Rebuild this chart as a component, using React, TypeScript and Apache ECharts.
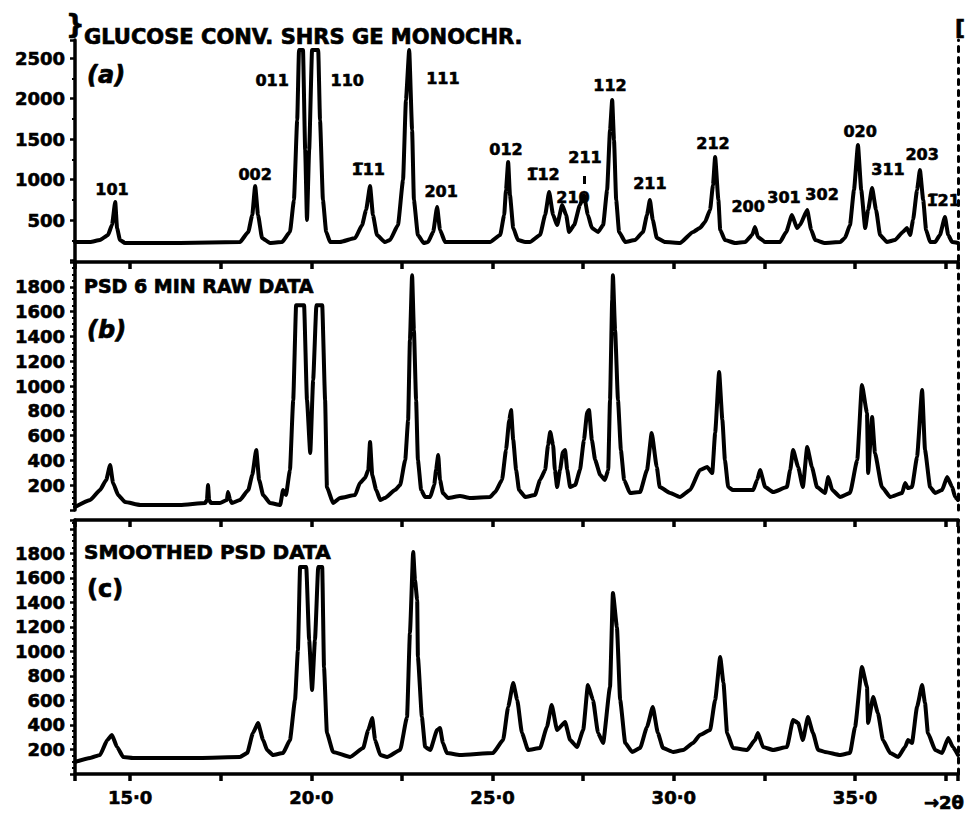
import React, { useEffect, useRef } from "react";
import * as echarts from "echarts";

// 2θ window shared by the three patterns (degrees)
const TWO_THETA_MIN = 13.48;
const TWO_THETA_MAX = 37.84;

// (a) glucose, conventional diffractometer, Ge monochromator: [2θ, counts]
const glucoseConv: [number, number][] = [
  [13.48, 228], [13.9, 228], [14.17, 253], [14.39, 315], [14.5, 438], [14.59, 722], [14.64, 401], [14.72, 253],
  [14.86, 216], [16.38, 216], [18.03, 228], [18.26, 352], [18.37, 562], [18.45, 920], [18.53, 562], [18.64, 278],
  [18.86, 216], [19.19, 228], [19.41, 352], [19.52, 747], [19.61, 1735], [19.66, 2600], [19.77, 2600], [19.83, 1365],
  [19.88, 500], [19.94, 1365], [20.02, 2600], [20.19, 2600], [20.24, 1735], [20.32, 747], [20.41, 352], [20.52, 228],
  [20.79, 228], [21.21, 278], [21.4, 438], [21.51, 624], [21.62, 920], [21.7, 562], [21.81, 315], [22.03, 228],
  [22.17, 253], [22.39, 438], [22.53, 994], [22.61, 1982], [22.7, 2600], [22.78, 1612], [22.83, 747], [22.94, 315],
  [23.1, 216], [23.22, 228], [23.36, 352], [23.47, 661], [23.55, 377], [23.69, 228], [24.93, 228], [25.21, 315],
  [25.32, 562], [25.37, 871], [25.43, 1216], [25.48, 809], [25.57, 401], [25.7, 253], [25.9, 228], [26.03, 228],
  [26.31, 315], [26.45, 562], [26.56, 846], [26.67, 562], [26.78, 438], [26.92, 685], [27.03, 562], [27.11, 352],
  [27.25, 438], [27.41, 685], [27.52, 809], [27.63, 562], [27.74, 401], [27.91, 352], [28.05, 438], [28.16, 871],
  [28.24, 1612], [28.3, 1982], [28.35, 1488], [28.41, 747], [28.49, 352], [28.66, 228], [28.93, 253], [29.15, 352],
  [29.26, 562], [29.34, 747], [29.42, 500], [29.53, 278], [29.76, 228], [30.17, 216], [30.53, 352], [30.72, 401],
  [30.86, 475], [31.0, 624], [31.08, 932], [31.14, 1278], [31.23, 747], [31.28, 377], [31.41, 253], [31.69, 216],
  [31.97, 228], [32.16, 315], [32.24, 414], [32.32, 290], [32.52, 228], [32.93, 228], [33.1, 352], [33.26, 562],
  [33.4, 401], [33.48, 438], [33.68, 624], [33.79, 377], [33.9, 253], [34.17, 216], [34.59, 228], [34.72, 278],
  [34.86, 438], [34.97, 871], [35.08, 1426], [35.17, 871], [35.28, 401], [35.36, 624], [35.47, 895], [35.58, 624],
  [35.69, 315], [35.88, 228], [36.1, 253], [36.32, 352], [36.43, 401], [36.52, 315], [36.6, 500], [36.71, 871],
  [36.79, 1118], [36.88, 747], [36.96, 377], [37.07, 228], [37.21, 228], [37.34, 315], [37.48, 537], [37.57, 315],
  [37.68, 228], [37.84, 216],
];

// (b) position-sensitive detector, 6 min raw data: [2θ, counts]
const psdRaw: [number, number][] = [
  [13.48, 24], [13.9, 81], [14.17, 161], [14.34, 242], [14.45, 363], [14.53, 218], [14.67, 121], [14.86, 64],
  [15.28, 40], [16.38, 40], [17.07, 56], [17.12, 81], [17.15, 202], [17.18, 81], [17.23, 56], [17.48, 56],
  [17.67, 81], [17.7, 145], [17.76, 81], [17.81, 56], [18.03, 81], [18.26, 161], [18.37, 282], [18.48, 484],
  [18.56, 242], [18.67, 121], [18.86, 56], [19.14, 40], [19.22, 161], [19.3, 121], [19.41, 322], [19.5, 887],
  [19.58, 1652], [19.8, 1652], [19.88, 887], [19.97, 459], [20.05, 1048], [20.14, 1652], [20.3, 1652], [20.38, 887],
  [20.43, 185], [20.6, 56], [20.79, 97], [21.21, 121], [21.34, 218], [21.48, 258], [21.57, 322], [21.62, 548],
  [21.68, 282], [21.79, 161], [21.9, 81], [22.03, 97], [22.31, 161], [22.45, 202], [22.59, 403], [22.67, 725],
  [22.72, 1370], [22.78, 1894], [22.83, 1451], [22.89, 887], [22.94, 403], [23.03, 161], [23.14, 105], [23.28, 105],
  [23.39, 202], [23.44, 322], [23.5, 443], [23.55, 242], [23.63, 137], [23.77, 97], [24.1, 113], [24.38, 97],
  [24.93, 105], [25.07, 145], [25.26, 242], [25.37, 484], [25.46, 725], [25.51, 806], [25.57, 564], [25.65, 322],
  [25.73, 161], [25.9, 105], [26.17, 121], [26.31, 242], [26.45, 322], [26.53, 524], [26.59, 629], [26.67, 524],
  [26.72, 322], [26.78, 185], [26.86, 322], [26.94, 467], [27.0, 484], [27.06, 322], [27.14, 185], [27.28, 202],
  [27.41, 322], [27.52, 564], [27.61, 790], [27.66, 806], [27.74, 564], [27.83, 403], [27.97, 282], [28.1, 242],
  [28.19, 322], [28.24, 887], [28.3, 1693], [28.32, 1894], [28.38, 1451], [28.46, 887], [28.54, 484], [28.63, 242],
  [28.79, 137], [29.07, 145], [29.26, 322], [29.39, 621], [29.53, 347], [29.61, 185], [29.9, 137], [30.17, 105],
  [30.45, 161], [30.72, 322], [30.92, 347], [31.06, 298], [31.14, 621], [31.25, 1112], [31.34, 725], [31.41, 403],
  [31.5, 185], [31.63, 161], [32.19, 161], [32.3, 242], [32.38, 322], [32.52, 185], [32.74, 145], [33.12, 185],
  [33.21, 322], [33.29, 484], [33.43, 347], [33.56, 185], [33.68, 508], [33.81, 347], [33.95, 185], [34.17, 137],
  [34.26, 266], [34.37, 161], [34.59, 105], [34.86, 137], [35.06, 403], [35.19, 1008], [35.33, 782], [35.36, 298],
  [35.47, 750], [35.55, 459], [35.74, 185], [35.97, 105], [36.3, 137], [36.38, 218], [36.46, 177], [36.57, 185],
  [36.71, 427], [36.85, 967], [36.93, 484], [37.07, 185], [37.21, 137], [37.4, 161], [37.54, 266], [37.68, 185],
  [37.76, 105], [37.84, 81],
];

// (c) smoothed PSD data: [2θ, counts]
const psdSmoothed: [number, number][] = [
  [13.48, 98], [13.9, 131], [14.17, 155], [14.37, 277], [14.5, 318], [14.64, 220], [14.81, 139], [15.08, 131],
  [16.93, 131], [18.03, 139], [18.23, 171], [18.39, 335], [18.53, 416], [18.67, 277], [18.78, 196], [18.94, 155],
  [19.22, 171], [19.41, 277], [19.55, 604], [19.63, 1012], [19.69, 1689], [19.86, 1689], [19.94, 1093], [20.02, 685],
  [20.1, 1093], [20.19, 1689], [20.3, 1689], [20.35, 873], [20.43, 335], [20.6, 180], [21.07, 139], [21.43, 212],
  [21.57, 359], [21.68, 457], [21.76, 277], [21.9, 155], [22.09, 139], [22.45, 196], [22.64, 465], [22.72, 1151],
  [22.81, 1812], [22.86, 1583], [22.92, 1420], [22.94, 955], [23.05, 465], [23.14, 220], [23.28, 196], [23.47, 359],
  [23.55, 375], [23.63, 253], [23.74, 171], [24.1, 155], [25.01, 171], [25.29, 277], [25.43, 547], [25.57, 743],
  [25.68, 604], [25.81, 335], [25.98, 196], [26.31, 212], [26.5, 384], [26.63, 563], [26.78, 359], [27.0, 424],
  [27.14, 277], [27.33, 220], [27.5, 359], [27.63, 726], [27.77, 604], [27.91, 335], [28.05, 253], [28.24, 710],
  [28.32, 1477], [28.43, 1200], [28.52, 604], [28.66, 253], [28.85, 180], [29.07, 212], [29.26, 384], [29.42, 547],
  [29.56, 335], [29.7, 212], [29.98, 180], [30.26, 196], [30.53, 253], [30.72, 318], [31.0, 359], [31.14, 604],
  [31.28, 955], [31.37, 743], [31.47, 335], [31.63, 212], [32.02, 196], [32.24, 277], [32.32, 335], [32.46, 220],
  [32.74, 196], [33.12, 220], [33.29, 441], [33.43, 416], [33.56, 277], [33.7, 465], [33.84, 335], [33.98, 196],
  [34.17, 180], [34.59, 155], [34.86, 171], [35.0, 384], [35.19, 873], [35.33, 710], [35.36, 416], [35.5, 628],
  [35.63, 498], [35.77, 277], [35.97, 171], [36.19, 139], [36.38, 220], [36.46, 277], [36.57, 253], [36.71, 547],
  [36.85, 726], [36.93, 579], [37.01, 335], [37.21, 196], [37.4, 171], [37.57, 294], [37.7, 220], [37.84, 155],
];

// Miller indices of the glucose reflections, anchored in panel (a) coordinates [2θ, counts]
const OB = "\u0305"; // combining overline for negative indices
const hklNames: string[] = [
  "101", "002", "011", "110", "1" + OB + "11", "111", "201", "012", "1" + OB + "12", "210", "211",
  "112", "211", "212", "200", "301", "302", "020", "311", "203", "1" + OB + "21",
];
const hklTwoTheta: number[] = [
  14.5, 18.45, 18.92, 20.99, 21.57, 23.63, 23.58, 25.37, 26.39, 27.22, 27.55,
  28.24, 29.34, 31.08, 32.05, 33.04, 34.09, 35.14, 35.91, 36.85, 37.43,
];
const hklCounts: number[] = [
  871, 1068, 2229, 2229, 1118, 2242, 846, 1365, 1068, 772, 1278,
  2167, 945, 1451, 673, 784, 821, 1599, 1118, 1303, 747,
];

const panelTitles = ["GLUCOSE CONV. SHRS GE MONOCHR.", "PSD 6 MIN RAW DATA", "SMOOTHED PSD DATA"];
const panelTags = ["(a)", "(b)", "(c)"];

const FONT = '"DejaVu Sans", sans-serif';
const INK = "#000";

export default function App() {
  const ref = useRef<HTMLDivElement>(null);

  useEffect(() => {
    if (!ref.current) return;
    const chart = echarts.init(ref.current, undefined, { renderer: "svg" });

    const gridLeft = 75;
    const gridWidth = 883;
    const grids = [
      { left: gridLeft, width: gridWidth, top: 40, height: 220.5 },
      { left: gridLeft, width: gridWidth, top: 262, height: 248 },
      { left: gridLeft, width: gridWidth, top: 520, height: 254 },
    ];
    const yMax = [2723, 2000, 2073];
    const yStep = [500, 200, 200];
    const yTop = [2500, 1800, 1800];

    const baseX = {
      type: "value",
      min: TWO_THETA_MIN,
      max: TWO_THETA_MAX,
      splitNumber: 10,
      minInterval: 2.5,
      maxInterval: 2.5,
      splitLine: { show: false },
    };
    const frameLine = { show: true, onZero: false, lineStyle: { color: INK, width: 3.5 } };
    const tickStyle = { color: INK, width: 3.5 };

    const xAxis: any[] = [
      { ...baseX, gridIndex: 0, position: "bottom", show: false },
      {
        ...baseX, gridIndex: 1, position: "top",
        axisLine: frameLine,
        axisTick: { show: true, inside: true, length: 7, lineStyle: tickStyle },
        axisLabel: { show: false },
      },
      {
        ...baseX, gridIndex: 2, position: "top",
        axisLine: frameLine,
        axisTick: { show: true, inside: true, length: 7, lineStyle: tickStyle },
        axisLabel: { show: false },
      },
      {
        ...baseX, gridIndex: 2, position: "bottom",
        axisLine: frameLine,
        axisTick: { show: true, inside: false, length: 7, lineStyle: tickStyle },
        axisLabel: {
          show: true,
          margin: 14,
          color: INK,
          fontFamily: FONT,
          fontWeight: "bold",
          fontSize: 18,
          textBorderColor: INK,
          textBorderWidth: 0.6,
          formatter: (v: number) =>
            Math.abs(v % 5) < 1e-6 && v >= 15 && v <= 35 ? v.toFixed(1).replace(".", "·") : "",
        },
      },
    ];

    const yAxis: any[] = [];
    grids.forEach((_, i) => {
      yAxis.push({
        type: "value",
        gridIndex: i,
        position: "left",
        min: 0,
        max: yMax[i],
        interval: yStep[i],
        splitLine: { show: false },
        axisLine: frameLine,
        axisTick: { show: true, length: 5, lineStyle: { color: INK, width: 2.5 } },
        minorTick: { show: true, splitNumber: i === 0 ? 2 : 4, length: 3, lineStyle: { color: INK, width: 2 } },
        axisLabel: {
          margin: 10,
          color: INK,
          fontFamily: FONT,
          fontWeight: "bold",
          fontSize: 18,
          textBorderColor: INK,
          textBorderWidth: 0.6,
          formatter: (v: number) => (v > 0 && v <= yTop[i] ? String(v) : ""),
        },
      });
      yAxis.push({
        type: "value",
        gridIndex: i,
        position: "right",
        min: 0,
        max: yMax[i],
        interval: yStep[i],
        splitLine: { show: false },
        axisLine: { show: true, onZero: false, lineStyle: { color: INK, width: 3, type: [5, 6] } },
        axisTick: { show: false },
        axisLabel: { show: false },
      });
    });

    const curve = (data: [number, number][], xi: number, yi: number) => ({
      type: "line",
      xAxisIndex: xi,
      yAxisIndex: yi,
      data,
      showSymbol: false,
      symbol: "none",
      clip: true,
      smooth: 0.15,
      smoothMonotone: "x",
      lineStyle: { color: INK, width: 4, cap: "round", join: "round" },
      z: 3,
    });

    const textStyle = (size: number, extra: any = {}) => ({
      fill: INK,
      font: `bold ${size}px ${FONT}`,
      textVerticalAlign: "middle",
      stroke: INK,
      lineWidth: 0.7,
      ...extra,
    });

    const titleY = [37, 286, 552];
    const titleSize = [21, 19, 20];
    const tagY = [75, 330, 589];
    const graphic: any[] = [];
    panelTitles.forEach((t, i) => {
      graphic.push({ type: "text", x: 84, y: titleY[i], style: { text: t, ...textStyle(titleSize[i]) } });
      graphic.push({
        type: "text", x: 87, y: tagY[i],
        style: { text: panelTags[i], ...textStyle(24, i < 2 ? { font: `italic bold 24px ${FONT}` } : {}) },
      });
    });
    graphic.push({ type: "text", x: 66, y: 24, style: { text: "}", ...textStyle(26) } });
    graphic.push({ type: "text", x: 955, y: 27, style: { text: "[", ...textStyle(22) } });
    graphic.push({ type: "text", x: 924, y: 802, style: { text: "→2θ", ...textStyle(18) } });
    graphic.push({ type: "rect", shape: { x: 583, y: 176, width: 3, height: 8 }, style: { fill: INK } });

    chart.setOption({
      animation: false,
      backgroundColor: "#fff",
      grid: grids.map((g) => ({ ...g, containLabel: false })),
      xAxis,
      yAxis,
      series: [
        curve(glucoseConv, 0, 0),
        curve(psdRaw, 1, 2),
        curve(psdSmoothed, 3, 4),
        {
          type: "scatter",
          xAxisIndex: 0,
          yAxisIndex: 0,
          symbolSize: 0,
          silent: true,
          z: 5,
          itemStyle: { opacity: 1, color: INK },
          data: hklNames.map((n, i) => ({ name: n, value: [hklTwoTheta[i], hklCounts[i]] })),
          label: {
            show: true,
            position: "inside",
            formatter: "{b}",
            color: INK,
            opacity: 1,
            fontFamily: FONT,
            fontWeight: "bold",
            fontSize: 16,
            textBorderColor: INK,
            textBorderWidth: 0.6,
          },
        },
      ],
      graphic,
    });

    return () => chart.dispose();
  }, []);

  return (
    <div
      ref={ref}
      style={{ position: "fixed", left: 0, top: 0, width: 977, height: 815, background: "#fff" }}
    />
  );
}
